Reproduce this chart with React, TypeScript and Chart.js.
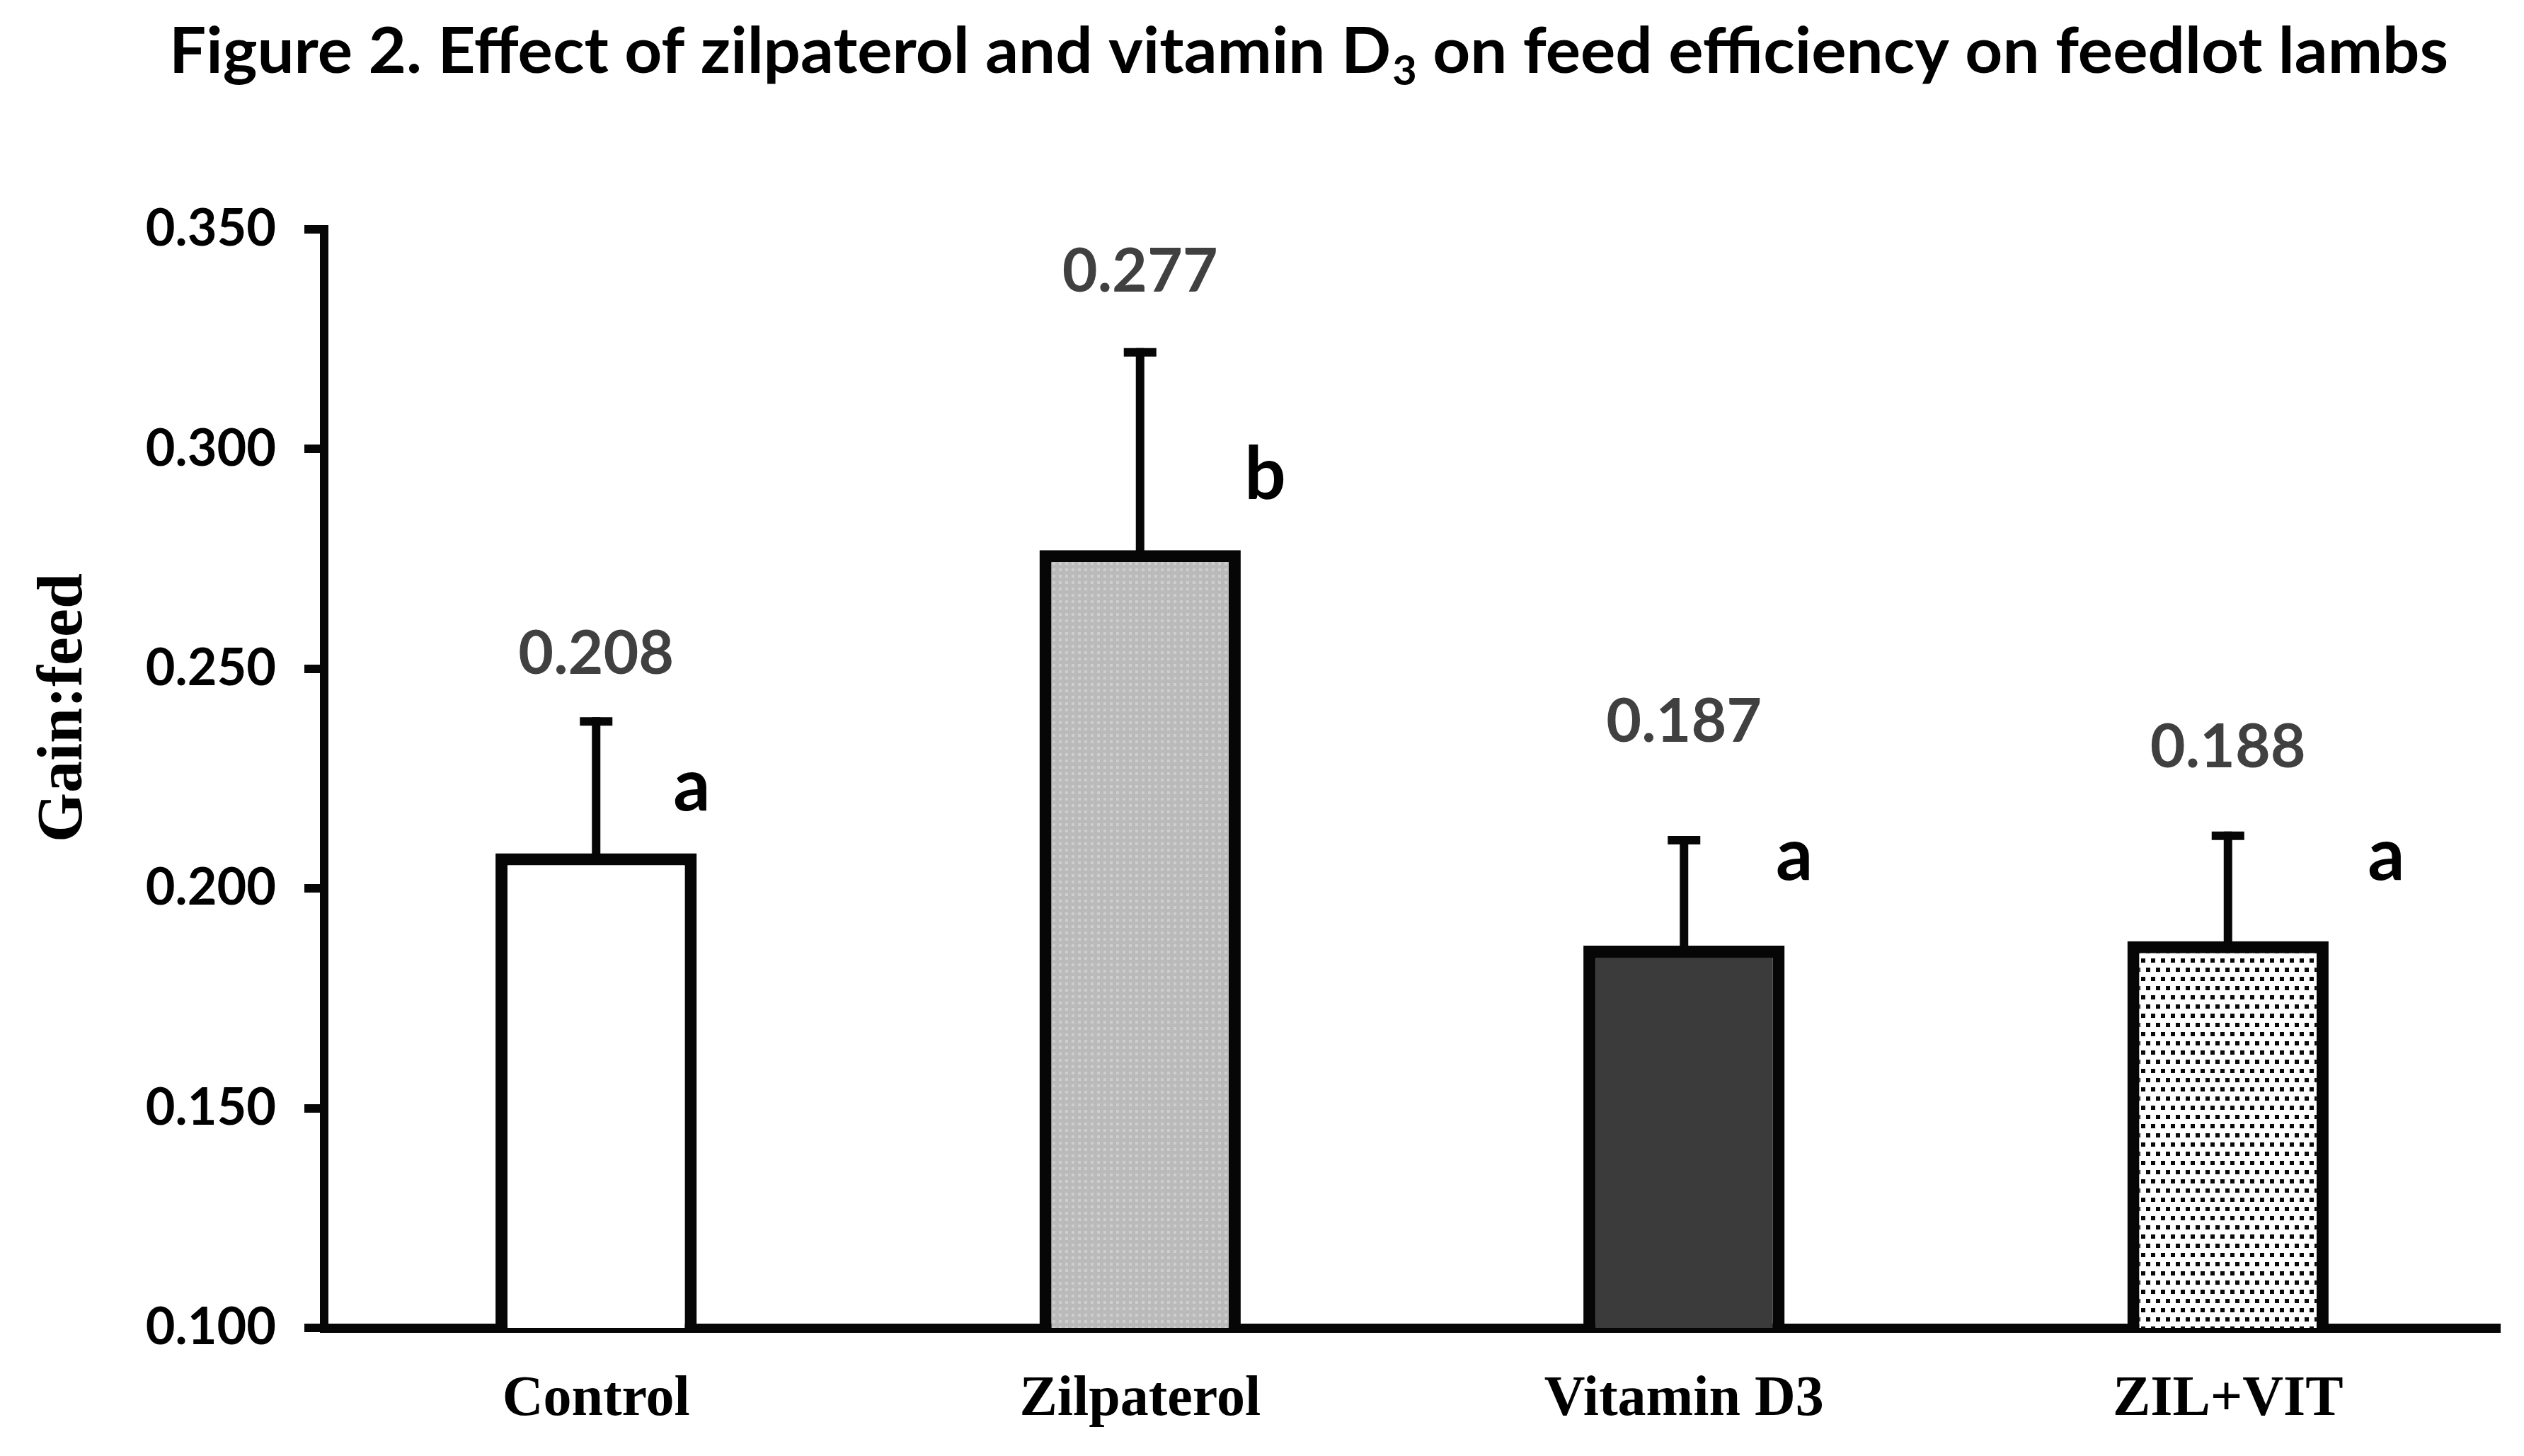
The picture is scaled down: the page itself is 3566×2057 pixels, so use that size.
import React, { useEffect, useRef } from "react";
import { Chart, registerables } from "chart.js";

Chart.register(...registerables);

// ---- data ----
const categories = ["Control", "Zilpaterol", "Vitamin D3", "ZIL+VIT"];
const gainFeed = [0.208, 0.277, 0.187, 0.188];
const errorUpper = [0.030, 0.045, 0.024, 0.024];
const valueLabels = ["0.208", "0.277", "0.187", "0.188"];
const valueLabelAt = [0.2533, 0.3403, 0.2379, 0.2321];
const letters = ["a", "b", "a", "a"];
const letterAt = [0.2178, 0.2886, 0.202, 0.202];
const letterShift = [0.176, 0.23, 0.203, 0.291];
const yMin = 0.1;
const yMax = 0.35;
const yStep = 0.05;
const titleMain = "Figure 2. Effect of zilpaterol and vitamin D";
const titleSub = "3";
const titleEnd = " on feed efficiency on feedlot lambs";
const yTitle = "Gain:feed";

const INK = "#050605";

function makeGrayPattern(): CanvasPattern | string {
  const c = document.createElement("canvas");
  c.width = 9;
  c.height = 9;
  const g = c.getContext("2d");
  if (!g) return "#c0c0c0";
  g.fillStyle = "#bababa";
  g.fillRect(0, 0, 9, 9);
  g.fillStyle = "#cecece";
  g.fillRect(2, 2, 4, 4);
  return g.createPattern(c, "repeat") || "#c0c0c0";
}

function makeDotPattern(): CanvasPattern | string {
  const c = document.createElement("canvas");
  c.width = 14;
  c.height = 26;
  const g = c.getContext("2d");
  if (!g) return "#ffffff";
  g.fillStyle = "#ffffff";
  g.fillRect(0, 0, 14, 26);
  g.fillStyle = "#0a0a0a";
  g.fillRect(1, 2, 6, 6);
  g.fillRect(8, 15, 6, 6);
  return g.createPattern(c, "repeat") || "#ffffff";
}

const annotations = {
  id: "annotations",
  afterDatasetsDraw(chart: any) {
    const ctx = chart.ctx as CanvasRenderingContext2D;
    const meta = chart.getDatasetMeta(0);
    const ys = chart.scales.y;
    const xs = chart.scales.x;
    const catW = (xs.right - xs.left) / categories.length;
    ctx.save();
    meta.data.forEach((bar: any, i: number) => {
      const cx = bar.x;
      const yTop = ys.getPixelForValue(gainFeed[i]);
      const yErr = ys.getPixelForValue(gainFeed[i] + errorUpper[i]);
      ctx.strokeStyle = INK;
      ctx.lineWidth = 12;
      ctx.lineCap = "butt";
      ctx.beginPath();
      ctx.moveTo(cx, yTop + 2);
      ctx.lineTo(cx, yErr - 6);
      ctx.stroke();
      ctx.beginPath();
      ctx.moveTo(cx - 23, yErr);
      ctx.lineTo(cx + 23, yErr);
      ctx.stroke();

      ctx.fillStyle = "#404040";
      ctx.font = "bold 86px Lato";
      ctx.textAlign = "center";
      ctx.textBaseline = "middle";
      ctx.fillText(valueLabels[i], cx, ys.getPixelForValue(valueLabelAt[i]));

      ctx.fillStyle = "#000000";
      ctx.font = "bold 103px Lato";
      ctx.textBaseline = "alphabetic";
      ctx.fillText(letters[i], cx + letterShift[i] * catW, ys.getPixelForValue(letterAt[i]));
    });
    ctx.restore();
  },
  afterDraw(chart: any) {
    const ctx = chart.ctx as CanvasRenderingContext2D;
    ctx.save();
    // title
    const mainFont = "bold 90px Lato";
    const subFont = "bold 58px Lato";
    ctx.font = mainFont;
    const w1 = ctx.measureText(titleMain).width;
    const w3 = ctx.measureText(titleEnd).width;
    ctx.font = subFont;
    const w2 = ctx.measureText(titleSub).width;
    const total = w1 + w2 + w3;
    const targetLeft = 239;
    const targetWidth = 3218;
    const sx = targetWidth / total;
    ctx.translate(targetLeft, 103);
    ctx.scale(sx, 1);
    ctx.fillStyle = "#000000";
    ctx.textAlign = "left";
    ctx.textBaseline = "alphabetic";
    ctx.font = mainFont;
    ctx.fillText(titleMain, 0, 0);
    ctx.font = subFont;
    ctx.fillText(titleSub, w1 + 2, 17);
    ctx.font = mainFont;
    ctx.fillText(titleEnd, w1 + w2 + 2, 0);
    ctx.restore();

    // y axis title
    ctx.save();
    ctx.translate(115, 1000);
    ctx.rotate(-Math.PI / 2);
    ctx.fillStyle = "#000000";
    ctx.font = 'bold 90px "Liberation Serif", "Times New Roman", serif';
    ctx.textAlign = "center";
    ctx.textBaseline = "alphabetic";
    ctx.fillText(yTitle, 0, 0);
    ctx.restore();
  },
};

export default function App() {
  const ref = useRef<HTMLCanvasElement | null>(null);
  useEffect(() => {
    document.body.style.margin = "0";
    const canvas = ref.current;
    if (!canvas) return;
    const fills = ["#ffffff", makeGrayPattern(), "#3b3b3b", makeDotPattern()];
    const chart = new Chart(canvas, {
      type: "bar",
      data: {
        labels: categories,
        datasets: [
          {
            data: gainFeed,
            backgroundColor: fills as any,
            borderColor: INK,
            borderWidth: 17,
            borderSkipped: "start",
            barPercentage: 0.37,
            categoryPercentage: 1,
          },
        ],
      },
      options: {
        animation: false,
        responsive: true,
        maintainAspectRatio: false,
        devicePixelRatio: 1,
        layout: { padding: { top: 324, right: 34, left: 0, bottom: 0 } },
        plugins: {
          legend: { display: false },
          tooltip: { enabled: false },
          title: { display: false },
        },
        scales: {
          x: {
            grid: { display: false, drawTicks: false },
            border: { display: true, color: INK, width: 13 },
            ticks: {
              color: "#000000",
              padding: 54,
              font: { family: '"Liberation Serif", "Times New Roman", serif', weight: "bold", size: 80 },
            },
            afterFit: (s: any) => {
              s.height = 181;
            },
          },
          y: {
            min: yMin,
            max: yMax,
            ticks: {
              stepSize: yStep,
              color: "#000000",
              padding: 40,
              font: { family: "Lato", weight: "bold", size: 72 },
              callback: (v: any) => Number(v).toFixed(3),
            },
            grid: {
              drawOnChartArea: false,
              drawTicks: true,
              tickLength: 28,
              tickWidth: 12,
              tickColor: INK,
              color: INK,
              lineWidth: 12,
            },
            border: { display: true, color: INK, width: 12 },
            afterFit: (s: any) => {
              s.width = 458;
            },
          },
        },
      },
      plugins: [annotations],
    });
    return () => chart.destroy();
  }, []);
  return (
    <div style={{ width: "3566px", height: "2057px", position: "relative" }}>
      <canvas ref={ref} />
    </div>
  );
}
